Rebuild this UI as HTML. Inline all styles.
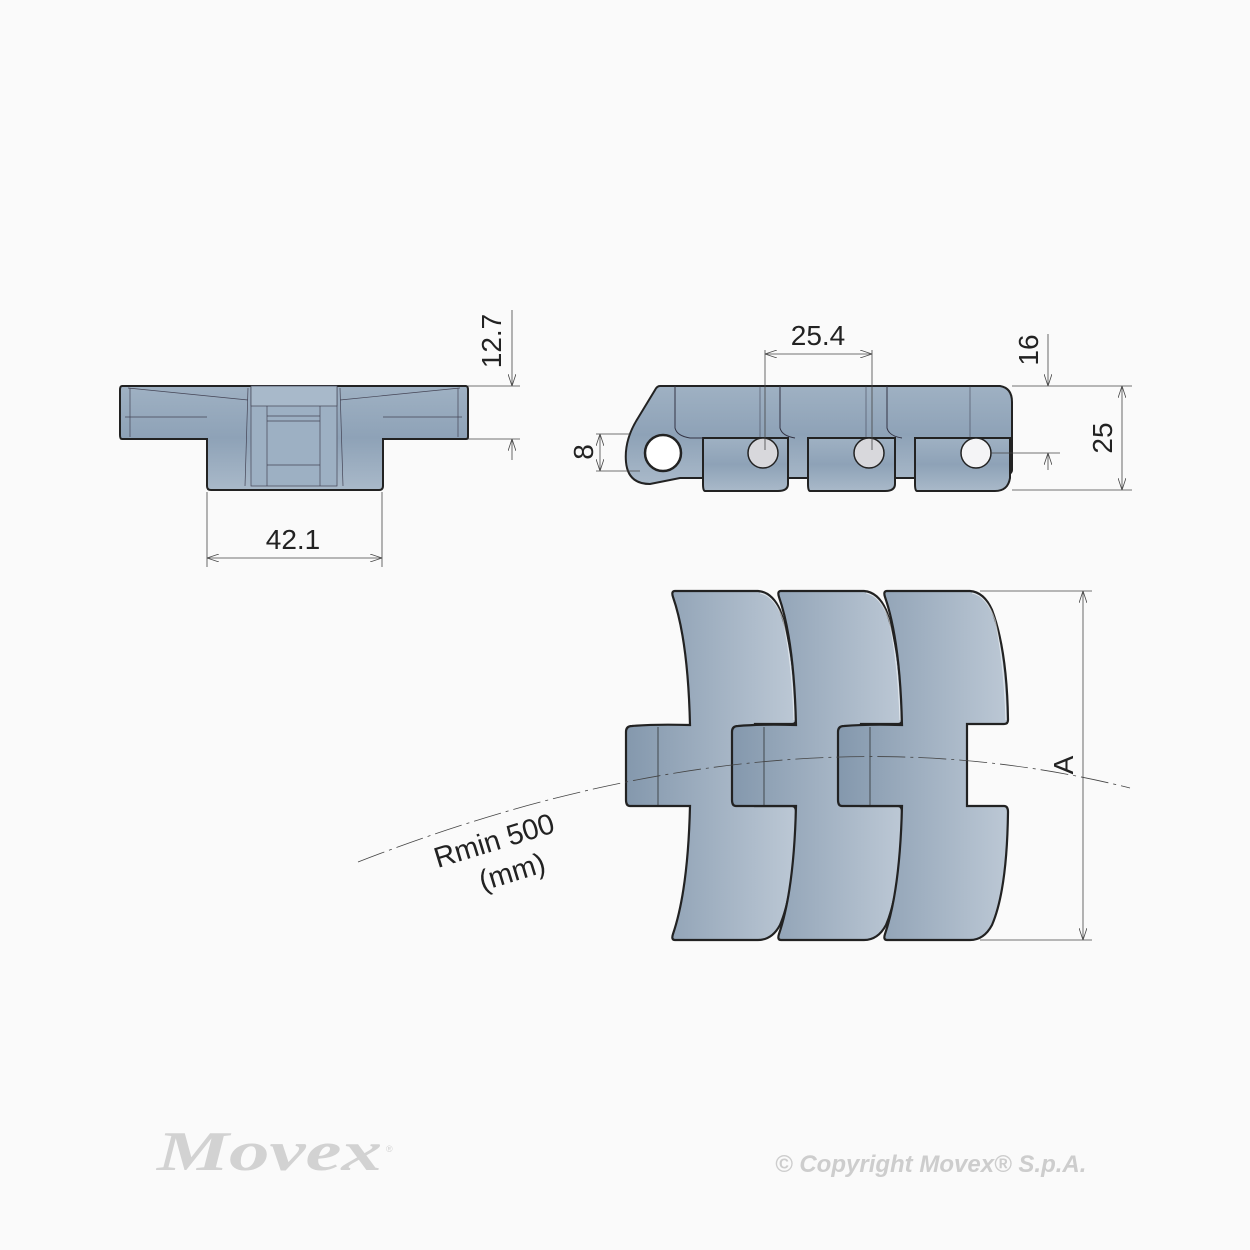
<!DOCTYPE html>
<html><head><meta charset="utf-8"><style>
html,body{margin:0;padding:0;background:#fafafa;}
svg{display:block;}
text{font-family:"Liberation Sans",sans-serif;fill:#222;}
</style></head><body>
<svg width="1250" height="1250" viewBox="0 0 1250 1250" xmlns="http://www.w3.org/2000/svg">
<defs>
<linearGradient id="g" x1="0" x2="1" y1="0" y2="0">
<stop offset="0" stop-color="#8498ad"/><stop offset="1" stop-color="#bcc8d5"/></linearGradient>
<linearGradient id="gv" x1="0" x2="0" y1="0" y2="1">
<stop offset="0" stop-color="#9fb1c3"/><stop offset="0.5" stop-color="#8ea2b7"/><stop offset="1" stop-color="#a9b9c9"/></linearGradient>
<marker id="a" viewBox="0 0 12 8" refX="12" refY="4" markerWidth="12" markerHeight="8" orient="auto-start-reverse" markerUnits="userSpaceOnUse">
<path d="M0,0 L12,4 L0,8" fill="none" stroke="#444" stroke-width="0.8"/></marker>
</defs>
<rect width="1250" height="1250" fill="#fafafa"/>

<!-- LEFT VIEW -->
<g stroke="#222" stroke-width="2" fill="url(#gv)">
<path d="M122,386 H466 Q468,386 468,390 V437 Q468,439 466,439 H383 V486 Q383,490 379,490 H211 Q207,490 207,486 V439 H122 Q120,439 120,435 V390 Q120,386 122,386 Z"/>
</g>
<g stroke="#445" stroke-width="0.7" fill="none">
<rect x="251" y="386" width="86" height="100" fill="#9db0c3"/>
<rect x="251" y="386" width="86" height="20" fill="#a8b9ca"/>
<line x1="267" y1="406" x2="267" y2="486"/><line x1="320" y1="406" x2="320" y2="486"/>
<line x1="267" y1="416" x2="320" y2="416"/><line x1="267" y1="421" x2="320" y2="421"/><line x1="267" y1="465" x2="320" y2="465"/>
<line x1="128" y1="388" x2="248" y2="400"/><line x1="340" y1="400" x2="460" y2="388"/>
<line x1="125" y1="417" x2="207" y2="417"/><line x1="383" y1="417" x2="462" y2="417"/>
<line x1="248" y1="388" x2="245" y2="486"/><line x1="340" y1="388" x2="343" y2="486"/>
<line x1="130" y1="388" x2="130" y2="437"/><line x1="458" y1="388" x2="458" y2="437"/>
</g>
<g stroke="#444" stroke-width="0.8" fill="none">
<line x1="468" y1="386" x2="520" y2="386"/><line x1="468" y1="439" x2="520" y2="439"/>
<line x1="512" y1="310" x2="512" y2="386" marker-end="url(#a)"/><line x1="512" y1="460" x2="512" y2="439" marker-end="url(#a)"/>
<line x1="207" y1="492" x2="207" y2="567"/><line x1="382" y1="492" x2="382" y2="567"/>
<line x1="207" y1="558" x2="382" y2="558" marker-start="url(#a)" marker-end="url(#a)"/>
</g>
<text x="293" y="549" font-size="28" text-anchor="middle">42.1</text>
<text transform="translate(501,341) rotate(-90)" font-size="28" text-anchor="middle">12.7</text>

<!-- SIDE VIEW -->
<g stroke="#222" stroke-width="2" fill="url(#gv)">
<path d="M660,386 H1000 Q1012,388 1012,402 V470 Q1012,475 1000,478 H680 L650,484 Q628,484 626,462 Q624,440 638,418 L655,390 Q657,386 660,386 Z"/>
<path d="M703,438 H788 V484 Q788,491 778,491 H705 Q703,491 703,484 Z"/>
<path d="M808,438 H895 V484 Q895,491 885,491 H810 Q808,491 808,484 Z"/>
<path d="M915,438 H1010 V478 Q1008,491 995,491 H917 Q915,491 915,484 Z"/>
</g>
<g stroke="#334" stroke-width="1" fill="none">
<path d="M675,386 V428 Q677,436 690,438 H703"/>
<path d="M780,386 V428 Q782,436 795,438"/>
<path d="M887,386 V428 Q889,436 902,438"/>
<line x1="760" y1="386" x2="760" y2="438" stroke-width="0.5"/><line x1="866" y1="386" x2="866" y2="438" stroke-width="0.5"/><line x1="970" y1="386" x2="970" y2="438" stroke-width="0.5"/>
</g>
<circle cx="663" cy="453" r="18" fill="#fff" stroke="#222" stroke-width="2.5"/>
<g stroke="#222" stroke-width="1.5">
<circle cx="763" cy="453" r="15" fill="#d8d8dc"/>
<circle cx="869" cy="453" r="15" fill="#d8d8dc"/>
<circle cx="976" cy="453" r="15" fill="#f4f4f6"/>
</g>
<g stroke="#444" stroke-width="0.8" fill="none">
<line x1="765" y1="350" x2="765" y2="450"/><line x1="872" y1="350" x2="872" y2="450"/>
<line x1="765" y1="354" x2="872" y2="354" marker-start="url(#a)" marker-end="url(#a)"/>
<line x1="596" y1="434" x2="630" y2="434"/><line x1="596" y1="471" x2="640" y2="471"/>
<line x1="600" y1="434" x2="600" y2="471" marker-start="url(#a)" marker-end="url(#a)"/>
<line x1="1012" y1="386" x2="1132" y2="386"/><line x1="1012" y1="490" x2="1132" y2="490"/>
<line x1="990" y1="453" x2="1060" y2="453"/>
<line x1="1048" y1="334" x2="1048" y2="386" marker-end="url(#a)"/><line x1="1048" y1="470" x2="1048" y2="453" marker-end="url(#a)"/>
<line x1="1122" y1="386" x2="1122" y2="490" marker-start="url(#a)" marker-end="url(#a)"/>
</g>
<text x="818" y="345" font-size="28" text-anchor="middle">25.4</text>
<text transform="translate(593,452) rotate(-90)" font-size="28" text-anchor="middle">8</text>
<text transform="translate(1038,350) rotate(-90)" font-size="28" text-anchor="middle">16</text>
<text transform="translate(1112,438) rotate(-90)" font-size="28" text-anchor="middle">25</text>

<!-- BOTTOM VIEW -->
<g stroke="#222" stroke-width="2.2" fill="url(#g)">
<g id="p">
<path d="M675,591 H758 Q772,592 780,610 Q795,650 796,720 Q796,724 792,724 H755 V806 H792 Q796,806 796,812 Q795,890 780,925 Q772,940 758,940 H675 Q671,940 673,934 Q688,890 690,806 H630 Q626,806 626,800 V732 Q626,726 632,726 Q655,724 690,725 Q688,640 673,597 Q671,591 675,591 Z"/>
<path d="M760,593 Q775,596 783,620 Q792,660 794,720" fill="none" stroke="#fff" stroke-width="1" opacity="0.6"/>
<line x1="658" y1="727" x2="658" y2="805" stroke-width="0.7"/>
</g>
<use href="#p" x="106"/>
<use href="#p" x="212"/>
</g>
<g stroke="#444" stroke-width="0.8" fill="none">
<line x1="980" y1="591" x2="1092" y2="591"/><line x1="980" y1="940" x2="1092" y2="940"/>
<line x1="1083" y1="591" x2="1083" y2="940" marker-start="url(#a)" marker-end="url(#a)"/>
<path d="M358,862 Q776,699 1130,788" stroke-dasharray="28,5,3,5"/>
</g>
<text transform="translate(1073,765) rotate(-90)" font-size="28" text-anchor="middle">A</text>
<g transform="translate(497,850) rotate(-17)">
<text x="0" y="0" font-size="29" text-anchor="middle">Rmin 500</text>
<text x="8" y="35" font-size="29" text-anchor="middle">(mm)</text>
</g>

<!-- Footer -->
<text x="157" y="1170" font-size="56" font-weight="bold" font-style="italic" textLength="225" lengthAdjust="spacingAndGlyphs" style="fill:#d2d2d2;font-family:'Liberation Serif',serif">Movex</text>
<text x="386" y="1152" font-size="9" style="fill:#d2d2d2">®</text>
<text x="775" y="1172" font-size="24" font-weight="bold" font-style="italic" style="fill:#cdcdcd">© Copyright Movex® S.p.A.</text>
</svg>
</body></html>
